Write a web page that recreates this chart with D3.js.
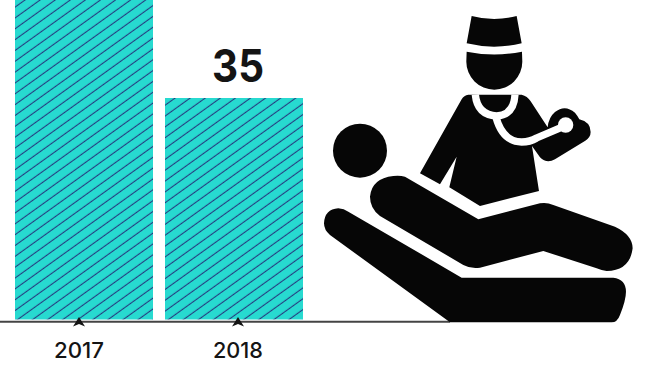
<!DOCTYPE html>
<html>
<head>
<meta charset="utf-8">
<script src="https://cdn.jsdelivr.net/npm/d3@7/dist/d3.min.js"></script>
<style>
  html, body { margin: 0; padding: 0; background: #fff; }
  svg { display: block; }
  text { font-family: Inter, Lato, sans-serif; fill: #141414; }
</style>
</head>
<body>
<svg id="chart" width="645" height="366"></svg>
<script>
// Cases per year; the 2017 bar runs past the top edge of the canvas.
const years = ["2017", "2018"];
const values = [56, 35];
const shownLabels = ["", "35"];

// Silhouette of a doctor examining a patient, in a 3x drawing grid.
const iconPaths = [
  // cap
  "M455,48 Q522,66 590,48 L605,130 Q522,150 440,130 Z",
  // head
  "M440,155 Q522,172 606,155 L607,185 A84,84 0 0 1 439,185 Z",
  // patient's head
  "M39,452 A81,81 0 1 1 201,452 A81,81 0 1 1 39,452 Z",
  // doctor's torso, sleeve and hand
  "M445,284 L605,284 Q622,288 632,304 L683,382 Q686,352 705,336 Q735,312 765,338 Q775,350 778,358 Q812,366 812,396 Q812,412 796,422 L705,478 Q680,492 660,472 L636,438 L657,573 L480,618 L388,562 L410,470 L360,553 L300,520 L425,298 Q432,286 445,284 Z",
  // patient's body
  "M255,530 L475,658 L660,610 Q680,606 700,615 L885,680 Q938,705 938,745 Q930,812 860,813 Q845,812 830,805 L670,753 L480,803 Q455,808 430,795 L180,648 Q150,625 150,590 Q155,535 220,528 Q240,526 255,530 Z",
  // bed
  "M85,635 L425,833 L880,833 Q918,838 918,875 Q918,900 900,945 Q892,967 875,967 L390,967 L30,705 Q12,690 12,670 Q14,628 55,625 Q72,626 85,635 Z"
];

const svg = d3.select("#chart");

const x = d3.scaleBand().domain(years).range([15, 303]).paddingInner(0.08);
const y = d3.scaleLinear().domain([0, 35]).range([319.5, 98]);
const tickX = d3.scalePoint().domain(years).range([79, 238]);

// Diagonal hatching over the teal fill.
const defs = svg.append("defs");
const hatch = defs.append("pattern")
  .attr("id", "hatch")
  .attr("patternUnits", "userSpaceOnUse")
  .attr("width", 8.8)
  .attr("height", 8.8)
  .attr("patternTransform", "rotate(-35.7 15 320)");
hatch.append("rect").attr("width", 8.8).attr("height", 8.8).attr("fill", "#27dad0");
hatch.append("rect").attr("y", 3.8).attr("width", 8.8).attr("height", 1.1).attr("fill", "#263c80");

svg.append("g").selectAll("rect")
  .data(years)
  .join("rect")
  .attr("x", d => x(d))
  .attr("width", x.bandwidth())
  .attr("y", (d, i) => y(values[i]))
  .attr("height", (d, i) => y(0) - y(values[i]))
  .attr("fill", "url(#hatch)");

// Baseline stops where the bed meets the floor.
svg.append("line")
  .attr("x1", 0).attr("x2", 450)
  .attr("y1", 321.8).attr("y2", 321.8)
  .attr("stroke", "#444")
  .attr("stroke-width", 2);

// Notched arrowhead ticks.
svg.append("g").selectAll("path")
  .data(years)
  .join("path")
  .attr("transform", d => `translate(${tickX(d)},0)`)
  .attr("d", "M0,317 L6,326.5 L0,324 L-6,326.5 Z")
  .attr("fill", "#141414");

svg.append("g").selectAll("text")
  .data(years)
  .join("text")
  .attr("x", d => tickX(d))
  .attr("y", 358)
  .attr("text-anchor", "middle")
  .attr("font-size", 22)
  .attr("font-weight", 500)
  .attr("textLength", 50)
  .attr("lengthAdjust", "spacingAndGlyphs")
  .text(d => d);

svg.append("g").selectAll("text")
  .data(years)
  .join("text")
  .attr("x", d => tickX(d))
  .attr("y", 81.5)
  .attr("text-anchor", "middle")
  .attr("font-size", 45)
  .attr("font-weight", 700)
  .attr("textLength", 52)
  .attr("lengthAdjust", "spacingAndGlyphs")
  .text((d, i) => shownLabels[i]);

const icon = svg.append("g")
  .attr("transform", "translate(320,0) scale(0.3333)");

icon.selectAll("path.shape")
  .data(iconPaths)
  .join("path")
  .attr("class", "shape")
  .attr("d", d => d)
  .attr("fill", "#060606");

// Stethoscope cut out of the doctor's coat in white.
icon.append("path")
  .attr("d", "M466,284 Q472,345 530,348 Q582,345 585,284")
  .attr("fill", "none").attr("stroke", "#fff").attr("stroke-width", 22);
icon.append("path")
  .attr("d", "M528,352 Q548,425 605,426 Q630,426 650,414 L735,378")
  .attr("fill", "none").attr("stroke", "#fff").attr("stroke-width", 22);
icon.append("circle")
  .attr("cx", 737).attr("cy", 375).attr("r", 23).attr("fill", "#fff");
</script>
</body>
</html>
